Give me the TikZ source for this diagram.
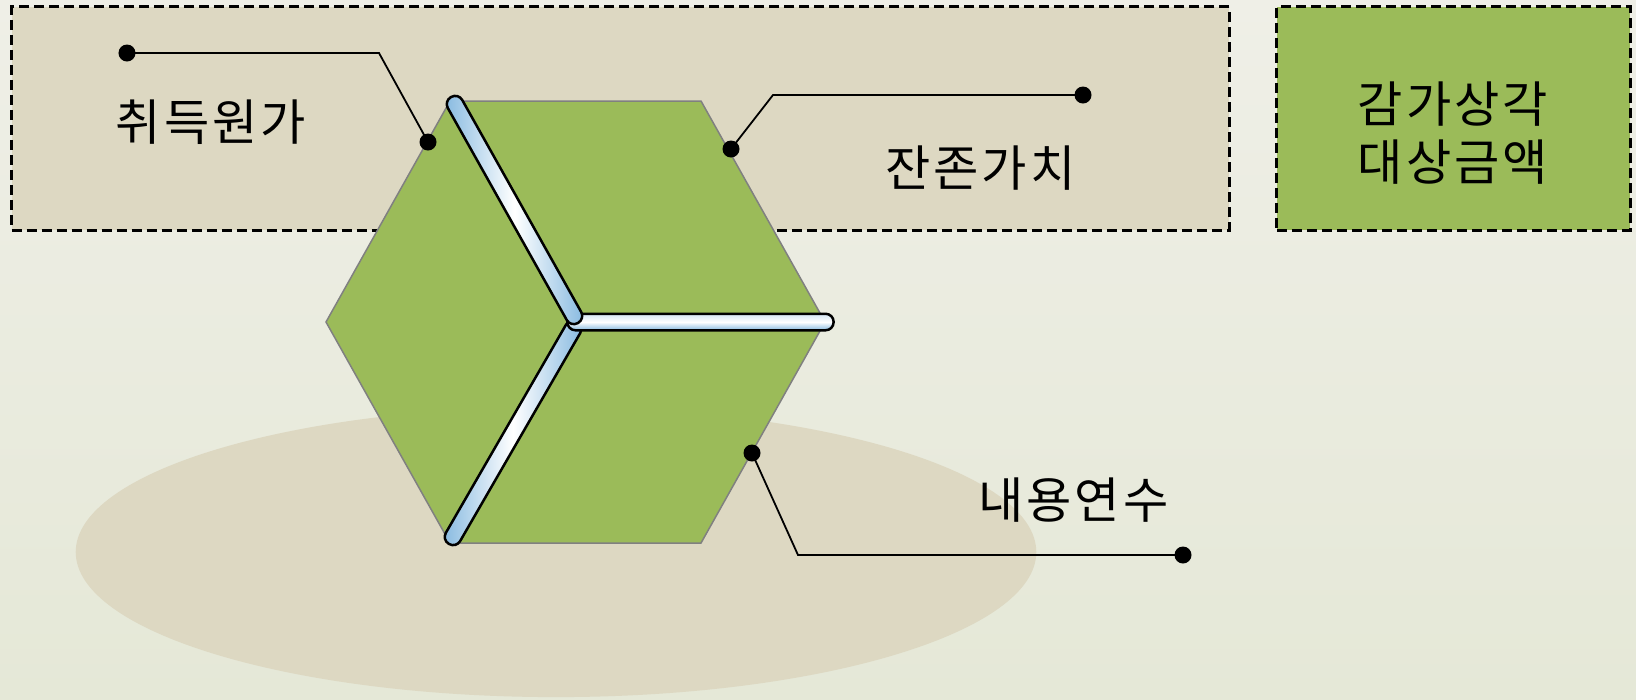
\documentclass[tikz,border=0pt]{standalone}
\usepackage{fontspec}
\setmainfont[LetterSpace=6]{Noto Sans CJK KR}
\usepackage{xcolor}
\usepackage{tikz}
\usetikzlibrary{positioning,calc}

\definecolor{bgtop}{HTML}{EFEFE7}
\definecolor{bgbot}{HTML}{E5E8D7}
\definecolor{sand}{HTML}{DDD8C2}
\definecolor{leaf}{HTML}{9BBB59}
\definecolor{pipe}{HTML}{86B9E0}

\begin{document}
\begin{tikzpicture}[
    x=0.01cm, y=-0.01cm,
    font=\fontsize{14}{16.5}\selectfont,
    dashbox/.style={
        draw,
        line width=0.03cm,
        dash pattern=on 0.1cm off 0.05cm,
        inner sep=0pt,
        minimum height=2.23cm
    },
    face/.style={fill=leaf, draw=gray, line width=0.015cm},
    tube/.style={
        draw=black,
        line width=0.025cm,
        rounded corners=0.08cm,
        minimum height=0.165cm,
        inner sep=0pt
    },
    slant/.style={left color=pipe, right color=pipe, middle color=white},
    flat/.style={top color=pipe!35, bottom color=pipe, middle color=white},
    dot/.style={circle, fill=black, inner sep=0pt, minimum size=0.17cm},
    callout/.style={line width=0.018cm}
]
\useasboundingbox (0,0) rectangle (1636,699);

% --- Background ---
\shade[top color=bgtop, bottom color=bgbot] (0,0) rectangle (1636,699);

% --- Boxes ---
\node[dashbox, fill=sand, minimum width=12.17cm] (upper) at (620.5,118.5) {};
\node[dashbox, fill=leaf, minimum width=3.53cm] (target) at (1453.5,118.5) {};

% --- Floor ---
\fill[sand] (556,552) ellipse [x radius=4.8cm, y radius=1.45cm];

% --- Cube ---
\draw[face] (326,322) -- (450,101) -- (701,101) -- (825,322)
    -- (701,543) -- (450,543) -- cycle;

\node[tube, slant, minimum width=2.56cm, rotate=60] (edgeC) at (513,433) {};
\node[tube, flat, minimum width=2.66cm] (edgeB) at (700.5,322) {};
\node[tube, slant, minimum width=2.59cm, rotate=-60.7] (edgeA) at (514.5,210) {};

% --- Callouts ---
\node[dot] (costend) at (127,53) {};
\coordinate (costbend) at (379,53);
\node[dot] (costpin) at (428,142) {};
\draw[callout] (costend.center) -- (costbend) -- (costpin.center);

\node[dot] (restpin) at (731,149) {};
\coordinate (restbend) at (773,95);
\node[dot] (restend) at (1083,95) {};
\draw[callout] (restpin.center) -- (restbend) -- (restend.center);

\node[dot] (lifepin) at (752,453) {};
\coordinate (lifebend) at (798,555);
\node[dot] (lifeend) at (1183,555) {};
\draw[callout] (lifepin.center) -- (lifebend) -- (lifeend.center);

% --- Labels ---
\node (cost) at (211,122) {취득원가};
\node (rest) at (980.5,168.5) {잔존가치};
\node (life) at (1073.5,500) {내용연수};
\node[align=center] (base) at (1453,133) {감가상각\\대상금액};

\end{tikzpicture}
\end{document}
